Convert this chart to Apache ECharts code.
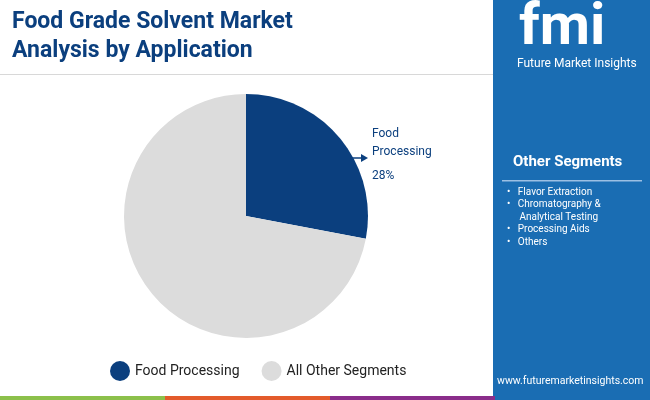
<!DOCTYPE html>
<html><head><meta charset="utf-8">
<script src="https://cdn.jsdelivr.net/npm/echarts@6/dist/echarts.min.js"></script>
<style>html,body{margin:0;padding:0;background:#fff}#c{width:650px;height:400px}</style>
</head><body><div id="c"></div>
<script>
const categories = ["Food Processing", "All Other Segments"];
const values = [28, 72];
const colors = ["#0b3f7e", "#dcdcdc"];
const otherSegments = ["Flavor Extraction", "Chromatography &\nAnalytical Testing", "Processing Aids", "Others"];

const chart = echarts.init(document.getElementById('c'));
const listText = otherSegments.map(s => '•   ' + s.replace('\n', '\n     ')).join('\n');
chart.setOption({
  animation: false,
  textStyle: { fontFamily: 'Roboto' },
  legend: {
    bottom: 14, left: 105, itemWidth: 20, itemHeight: 20, itemGap: 22, icon: 'circle',
    textStyle: { fontSize: 14, color: '#222', fontFamily: 'Roboto' },
    data: categories
  },
  graphic: [
    { type: 'text', left: 12, top: 8, style: { text: 'Food Grade Solvent Market\nAnalysis by Application', font: 'bold 23px Roboto', fill: '#0b3f7e', lineHeight: 29 } },
    { type: 'rect', shape: { x: 0, y: 74, width: 493, height: 1 }, style: { fill: '#d8d8d8' } },
    { type: 'rect', shape: { x: 493, y: 0, width: 157, height: 400 }, style: { fill: '#1a6db3' } },
    { type: 'text', left: 519, top: 0, style: { text: 'fmi', font: 'bold 58px Roboto', fill: '#fff' } },
    { type: 'text', left: 517, top: 58, style: { text: 'Future Market Insights', font: '12px Roboto', fill: '#fff' } },
    { type: 'text', left: 513, top: 155, style: { text: 'Other Segments', font: 'bold 15px Roboto', fill: '#fff' } },
    { type: 'rect', shape: { x: 502, y: 180, width: 140, height: 1.5 }, style: { fill: '#9cc0e4' } },
    { type: 'text', left: 507, top: 186, style: { text: listText, font: '10px Roboto', fill: '#fff', lineHeight: 12.5 } },
    { type: 'text', left: 497, top: 376, style: { text: 'www.futuremarketinsights.com', font: '10.5px Roboto', fill: '#fff' } },
    { type: 'rect', shape: { x: 0, y: 396, width: 165, height: 4 }, style: { fill: '#8cc04b' } },
    { type: 'rect', shape: { x: 165, y: 396, width: 165, height: 4 }, style: { fill: '#e35b2b' } },
    { type: 'rect', shape: { x: 330, y: 396, width: 165, height: 4 }, style: { fill: '#8a2d8a' } },
    { type: 'line', shape: { x1: 348, y1: 158, x2: 362, y2: 158 }, style: { stroke: '#0b3f7e', lineWidth: 1.5 } },
    { type: 'polygon', shape: { points: [[368, 158], [361, 154], [361, 162]] }, style: { fill: '#0b3f7e' } }
  ],
  series: [{
    type: 'pie', center: [246, 216], radius: 122, startAngle: 90, clockwise: true,
    color: colors,
    data: categories.map((n, i) => ({ name: n, value: values[i],
      label: i === 0 ? { show: true } : { show: false } })),
    label: {
      position: 'outside',
      formatter: p => '{a|Food\nProcessing}\n{b|' + p.value + '%}',
      rich: {
        a: { font: 'bold 15px Roboto', color: '#0b3f7e', lineHeight: 18 },
        b: { font: 'bold 27px Roboto', color: '#0b3f7e', lineHeight: 30 }
      }
    },
    labelLine: { show: false },
    labelLayout: () => ({ x: 372, y: 158, align: 'left', verticalAlign: 'middle' })
  }]
});
</script></body></html>
